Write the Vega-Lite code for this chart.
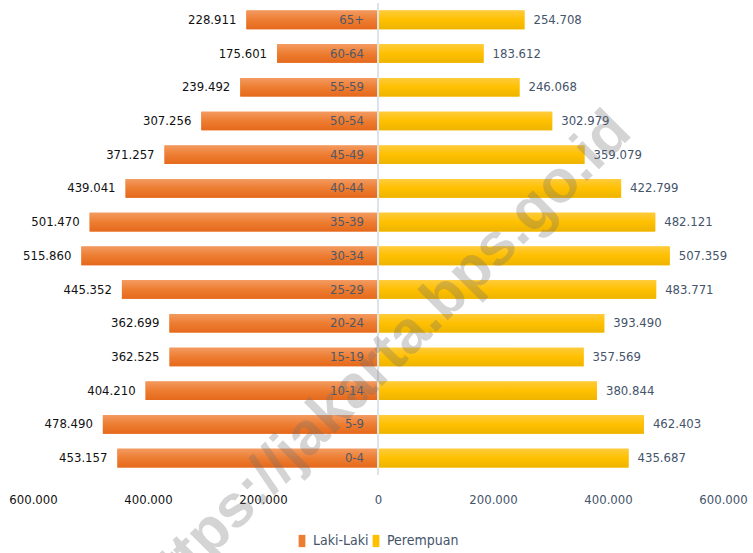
{
  "$schema": "https://vega.github.io/schema/vega-lite/v6.json",
  "width": 690,
  "height": 472,
  "autosize": {"type": "none"},
  "padding": {"left": 33, "top": 3, "right": 30, "bottom": 78},
  "background": "white",
  "config": {
    "view": {"stroke": null},
    "font": "DejaVu Sans Condensed, Liberation Sans",
    "locale": {"number": {"decimal": ",", "thousands": ".", "grouping": [3], "currency": ["Rp", ""]}}
  },
  "data": {
    "values": [
      {"age": "65+", "sex": "Laki-Laki", "value": 228911},
      {"age": "60-64", "sex": "Laki-Laki", "value": 175601},
      {"age": "55-59", "sex": "Laki-Laki", "value": 239492},
      {"age": "50-54", "sex": "Laki-Laki", "value": 307256},
      {"age": "45-49", "sex": "Laki-Laki", "value": 371257},
      {"age": "40-44", "sex": "Laki-Laki", "value": 439041},
      {"age": "35-39", "sex": "Laki-Laki", "value": 501470},
      {"age": "30-34", "sex": "Laki-Laki", "value": 515860},
      {"age": "25-29", "sex": "Laki-Laki", "value": 445352},
      {"age": "20-24", "sex": "Laki-Laki", "value": 362699},
      {"age": "15-19", "sex": "Laki-Laki", "value": 362525},
      {"age": "10-14", "sex": "Laki-Laki", "value": 404210},
      {"age": "5-9", "sex": "Laki-Laki", "value": 478490},
      {"age": "0-4", "sex": "Laki-Laki", "value": 453157},
      {"age": "65+", "sex": "Perempuan", "value": 254708},
      {"age": "60-64", "sex": "Perempuan", "value": 183612},
      {"age": "55-59", "sex": "Perempuan", "value": 246068},
      {"age": "50-54", "sex": "Perempuan", "value": 302979},
      {"age": "45-49", "sex": "Perempuan", "value": 359079},
      {"age": "40-44", "sex": "Perempuan", "value": 422799},
      {"age": "35-39", "sex": "Perempuan", "value": 482121},
      {"age": "30-34", "sex": "Perempuan", "value": 507359},
      {"age": "25-29", "sex": "Perempuan", "value": 483771},
      {"age": "20-24", "sex": "Perempuan", "value": 393490},
      {"age": "15-19", "sex": "Perempuan", "value": 357569},
      {"age": "10-14", "sex": "Perempuan", "value": 380844},
      {"age": "5-9", "sex": "Perempuan", "value": 462403},
      {"age": "0-4", "sex": "Perempuan", "value": 435687}
    ]
  },
  "transform": [
    {"calculate": "datum.sex === 'Laki-Laki' ? -datum.value : datum.value", "as": "signed"}
  ],
  "encoding": {
    "y": {
      "field": "age",
      "type": "nominal",
      "sort": ["65+", "60-64", "55-59", "50-54", "45-49", "40-44", "35-39", "30-34", "25-29", "20-24", "15-19", "10-14", "5-9", "0-4"],
      "scale": {"paddingInner": 0.45, "paddingOuter": 0.225},
      "axis": null
    }
  },
  "layer": [
    {
      "mark": {"type": "bar"},
      "encoding": {
        "x": {
          "field": "signed",
          "type": "quantitative",
          "scale": {"domain": [-600000, 600000], "nice": false, "zero": false},
          "axis": {
            "title": null,
            "values": [-600000, -400000, -200000, 0, 200000, 400000, 600000],
            "labelExpr": "format(abs(datum.value), ',d')",
            "labelFontSize": 13,
            "labelColor": {"condition": {"test": "datum.value < 0", "value": "#111111"}, "value": "#44546a"},
            "labelPadding": 18,
            "domain": false,
            "ticks": false,
            "grid": false,
            "labelFlush": false,
            "labelOverlap": false
          }
        },
        "color": {
          "field": "sex",
          "type": "nominal",
          "scale": {
            "domain": ["Laki-Laki", "Perempuan"],
            "range": ["#ED7D31", "#FFC000"]
          },
          "legend": {
            "title": null,
            "orient": "none",
            "legendX": 262,
            "legendY": 531,
            "direction": "horizontal",
            "symbolType": "M-0.55,-1H0.55V1H-0.55Z",
            "symbolSize": 150,
            "symbolStrokeWidth": 0,
            "labelFontSize": 14,
            "labelColor": "#44546a",
            "labelOffset": 4,
            "columnPadding": 0
          }
        }
      }
    },
    {
      "transform": [{"filter": "datum.sex === 'Laki-Laki'"}],
      "mark": {"type": "bar", "color": {"gradient": "linear", "x1": 0, "y1": 0, "x2": 0, "y2": 1, "stops": [{"offset": 0, "color": "#F39A60"}, {"offset": 0.5, "color": "#ED7D31"}, {"offset": 1, "color": "#E5691C"}]}},
      "encoding": {"x": {"field": "signed", "type": "quantitative"}}
    },
    {
      "transform": [{"filter": "datum.sex === 'Perempuan'"}],
      "mark": {"type": "bar", "color": {"gradient": "linear", "x1": 0, "y1": 0, "x2": 0, "y2": 1, "stops": [{"offset": 0, "color": "#FFCB3A"}, {"offset": 0.5, "color": "#FFC000"}, {"offset": 1, "color": "#EDB400"}]}},
      "encoding": {"x": {"field": "signed", "type": "quantitative"}}
    },
    {
      "mark": {"type": "rule", "color": "#dde3ea", "strokeWidth": 2},
      "encoding": {"x": {"datum": 0}, "y": null}
    },
    {
      "transform": [{"filter": "datum.sex === 'Laki-Laki'"}],
      "mark": {"type": "text", "align": "right", "baseline": "middle", "dx": -10, "fontSize": 13, "color": "#111111"},
      "encoding": {
        "x": {"field": "signed", "type": "quantitative"},
        "text": {"field": "value", "type": "quantitative", "format": ",d"}
      }
    },
    {
      "transform": [{"filter": "datum.sex === 'Perempuan'"}],
      "mark": {"type": "text", "align": "left", "baseline": "middle", "dx": 9, "fontSize": 13, "color": "#44546a"},
      "encoding": {
        "x": {"field": "signed", "type": "quantitative"},
        "text": {"field": "value", "type": "quantitative", "format": ",d"}
      }
    },
    {
      "transform": [{"filter": "datum.sex === 'Laki-Laki'"}],
      "mark": {"type": "text", "align": "right", "baseline": "middle", "dx": -14, "fontSize": 13, "color": "#4f5868"},
      "encoding": {
        "x": {"datum": 0},
        "text": {"field": "age", "type": "nominal"}
      }
    },
    {
      "data": {"values": [{"label": "https://jakarta.bps.go.id"}]},
      "mark": {"type": "text", "align": "center", "baseline": "middle", "angle": -45, "fontSize": 60, "fontWeight": "bold", "font": "Liberation Sans", "fill": "#707070", "fillOpacity": 0.3, "dy": -22, "dx": 20},
      "encoding": {
        "x": {"datum": 8700},
        "y": {"datum": "10-14"},
        "text": {"field": "label", "type": "nominal"}
      }
    }
  ]
}
